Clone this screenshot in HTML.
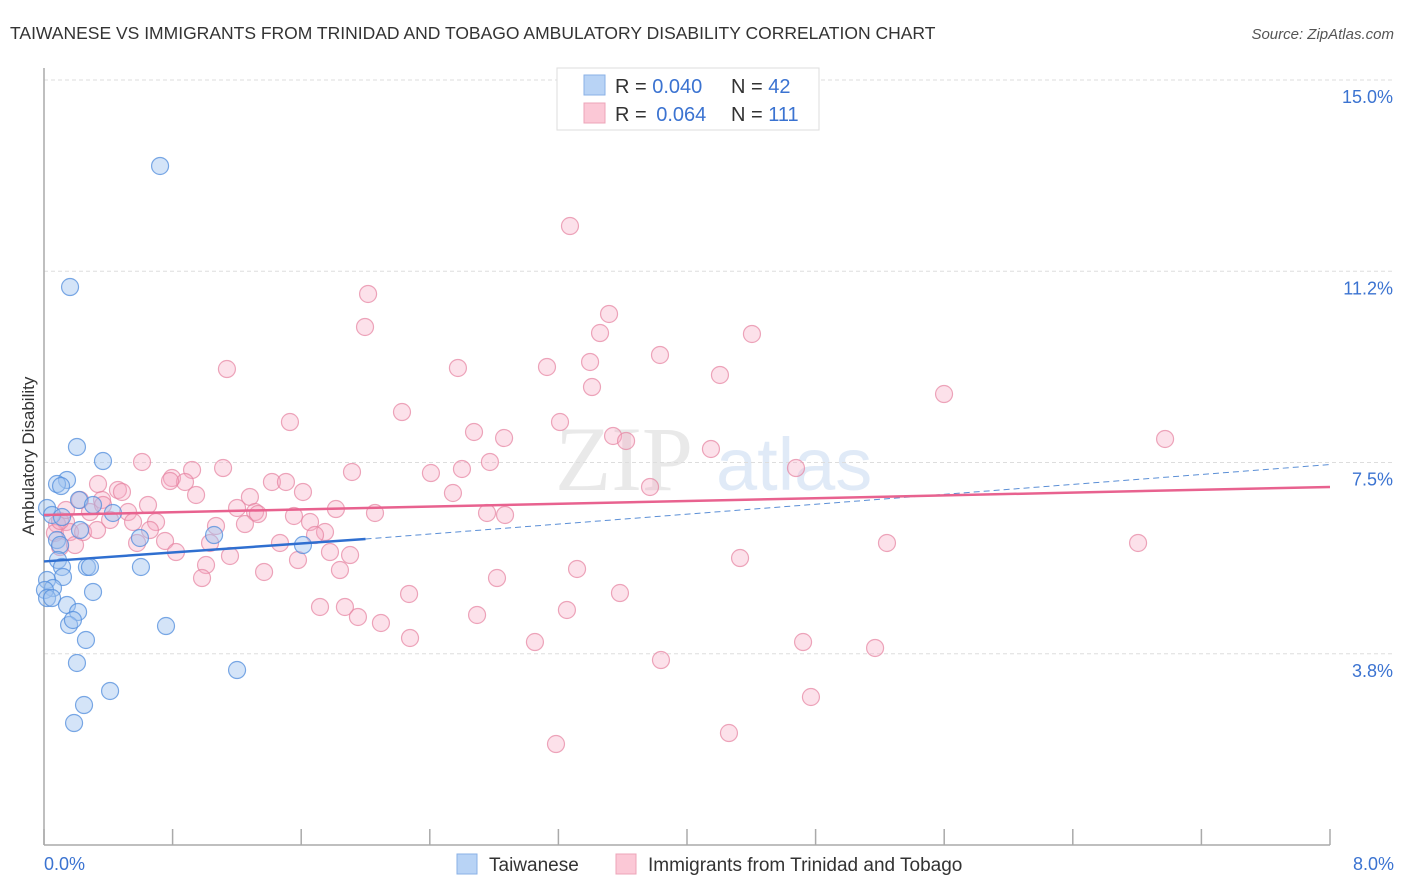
<!DOCTYPE html>
<html><head><meta charset="utf-8"><style>
body{margin:0;background:#fff;font-family:"Liberation Sans",sans-serif;}
svg{display:block}
</style></head><body>
<svg id="chart" width="1406" height="892" viewBox="0 0 1406 892">
<text x="10" y="39" font-size="17.5" fill="#333">TAIWANESE VS IMMIGRANTS FROM TRINIDAD AND TOBAGO AMBULATORY DISABILITY CORRELATION CHART</text>
<text x="1394" y="39" font-size="15" fill="#555" font-style="italic" text-anchor="end">Source: ZipAtlas.com</text>
<g opacity="0.18">
<text x="555" y="490" font-size="92" font-family="Liberation Serif,serif" fill="#888">ZIP</text>
<text x="716" y="490" font-size="74" fill="#5b8fd6">atlas</text>
</g>
<g id="grid"></g>
<line x1="44" y1="68" x2="44" y2="845" stroke="#aaa" stroke-width="1.5"/>
<line x1="44" y1="845" x2="1330" y2="845" stroke="#aaa" stroke-width="1.5"/>
<text transform="translate(34,456) rotate(-90)" font-size="17" fill="#333" text-anchor="middle">Ambulatory Disability</text>
<text x="44" y="870" font-size="18" fill="#3b73d1">0.0%</text>
<text x="1394" y="870" font-size="18" fill="#3b73d1" text-anchor="end">8.0%</text>
<g id="pts"></g>
<g id="trends"></g>
<g>
<rect x="557" y="68" width="262" height="62" fill="#fff" stroke="#ddd"/>
<rect x="584" y="75" width="21" height="20" fill="#b8d3f5" stroke="#8ab0e6"/>
<rect x="584" y="103" width="21" height="20" fill="#fbc8d6" stroke="#eca4b8"/>
<text x="615" y="93" font-size="20" fill="#333">R = <tspan fill="#3b73d1">0.040</tspan><tspan x="731">N = </tspan><tspan fill="#3b73d1">42</tspan></text>
<text x="615" y="121" font-size="20" fill="#333">R = <tspan fill="#3b73d1" dx="4">0.064</tspan><tspan x="731">N = </tspan><tspan fill="#3b73d1">111</tspan></text>
</g>
<g>
<rect x="457" y="854" width="20" height="20" fill="#b8d3f5" stroke="#8ab0e6"/>
<text x="489" y="871" font-size="19" fill="#333">Taiwanese</text>
<rect x="616" y="854" width="20" height="20" fill="#fbc8d6" stroke="#eca4b8"/>
<text x="648" y="871" font-size="19" fill="#333">Immigrants from Trinidad and Tobago</text>
</g>
</svg>
<script>
const yTicks=[15.0,11.25,7.5,3.75];
const yTickLabels=["15.0%","11.2%","7.5%","3.8%"];
const xTicks=[0,0.8,1.6,2.4,3.2,4.0,4.8,5.6,6.4,7.2,8.0];
const bluePx=[[160,166],[70,287],[77,447],[103,461],[67,480],[57,484],[61,486],[47,508],[52,515],[62,517],[79,500],[93,505],[113,513],[140,538],[80,530],[57,540],[60,545],[58,560],[62,567],[87,567],[90,567],[63,577],[47,580],[53,588],[45,590],[47,598],[52,598],[67,605],[78,612],[69,625],[73,620],[93,592],[86,640],[141,567],[166,626],[214,535],[303,545],[237,670],[77,663],[110,691],[84,705],[74,723]];
const pinkPx=[[570,226],[368,294],[365,327],[609,314],[600,333],[752,334],[227,369],[458,368],[547,367],[590,362],[660,355],[720,375],[592,387],[944,394],[402,412],[290,422],[560,422],[474,432],[504,438],[613,436],[626,441],[1165,439],[711,449],[142,462],[490,462],[796,468],[192,470],[352,472],[431,473],[462,469],[172,478],[185,482],[272,482],[286,482],[98,484],[118,490],[148,505],[196,495],[303,492],[453,493],[650,487],[80,500],[102,500],[122,492],[250,497],[237,508],[255,512],[258,514],[294,516],[336,509],[375,513],[487,513],[505,515],[90,512],[128,512],[110,520],[133,522],[156,522],[216,526],[245,524],[310,522],[66,522],[57,524],[55,533],[70,532],[83,532],[60,547],[137,543],[165,541],[210,543],[230,556],[280,543],[325,532],[315,535],[330,552],[350,555],[176,552],[298,560],[206,565],[264,572],[340,570],[202,578],[497,578],[577,569],[740,558],[887,543],[1138,543],[409,594],[620,593],[320,607],[345,607],[358,617],[567,610],[381,623],[477,615],[410,638],[535,642],[803,642],[875,648],[661,660],[811,697],[729,733],[556,744],[103,505],[97,530],[170,481],[223,468],[60,521],[66,510],[75,545],[150,530]];
// convert to data values
const blueX=bluePx.map(p=>+((p[0]-44)/160.75).toFixed(3)), blueY=bluePx.map(p=>+((845-p[1])/51).toFixed(3));
const pinkX=pinkPx.map(p=>+((p[0]-44)/160.75).toFixed(3)), pinkY=pinkPx.map(p=>+((845-p[1])/51).toFixed(3));
const blueTrend=[0,5.56,2.0,6.0,8.0,7.46];
const pinkTrend=[0,6.47,8.0,7.02];
const sx=v=>44+v*160.75, sy=v=>845-v*51;
const NS="http://www.w3.org/2000/svg";
function mk(tag,attrs,parent){const e=document.createElementNS(NS,tag);for(const k in attrs)e.setAttribute(k,attrs[k]);parent.appendChild(e);return e;}
const grid=document.getElementById('grid');
yTicks.forEach((v,i)=>{
 const l=mk('line',{x1:44,x2:1394,y1:sy(v),y2:sy(v),stroke:'#ddd','stroke-dasharray':'4,3'},grid);
 
 
 const t=mk('text',{x:1393,y:sy(v)+23,'font-size':18,fill:'#3b73d1','text-anchor':'end'},grid);
 t.textContent=yTickLabels[i];
 
 
});
xTicks.forEach(v=>{
 const l=mk('line',{x1:sx(v),x2:sx(v),y1:829,y2:845,stroke:'#aaa','stroke-width':1.5},grid);
 
 
});
const pts=document.getElementById('pts');
pinkX.forEach((x,i)=>{
 const c=mk('circle',{cx:sx(x),cy:sy(pinkY[i]),r:8.5,fill:'rgba(246,170,194,0.35)',stroke:'rgba(230,130,160,0.7)','stroke-width':1.2},pts);
 
 
});
blueX.forEach((x,i)=>{
 const c=mk('circle',{cx:sx(x),cy:sy(blueY[i]),r:8.5,fill:'rgba(160,196,240,0.45)',stroke:'rgba(80,140,220,0.75)','stroke-width':1.2},pts);
 
 
});
const tr=document.getElementById('trends');
const b1=mk('line',{x1:sx(blueTrend[0]),y1:sy(blueTrend[1]),x2:sx(blueTrend[2]),y2:sy(blueTrend[3]),stroke:'#2f6fd0','stroke-width':2.5},tr);


const b2=mk('line',{x1:sx(blueTrend[2]),y1:sy(blueTrend[3]),x2:sx(blueTrend[4]),y2:sy(blueTrend[5]),stroke:'#5b8fd6','stroke-width':1,'stroke-dasharray':'6,4'},tr);


const p1=mk('line',{x1:sx(pinkTrend[0]),y1:sy(pinkTrend[1]),x2:sx(pinkTrend[2]),y2:sy(pinkTrend[3]),stroke:'#e8628f','stroke-width':2.5},tr);


</script>
</body></html>
